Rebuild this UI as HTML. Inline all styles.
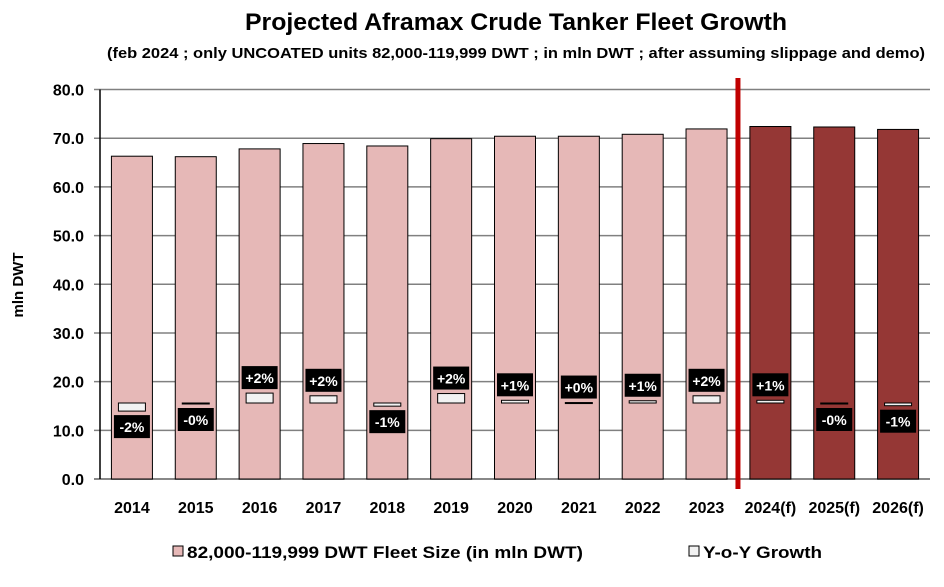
<!DOCTYPE html>
<html><head><meta charset="utf-8"><style>
body{margin:0;background:#fff;font-family:"Liberation Sans",Arial,sans-serif;}
svg text{font-family:"Liberation Sans",Arial,sans-serif;font-weight:bold;}
</style></head><body>
<svg id="c" width="944" height="582">
<text x="516" y="30" text-anchor="middle" font-size="24" textLength="542" lengthAdjust="spacingAndGlyphs">Projected Aframax Crude Tanker Fleet Growth</text>
<text x="516" y="58" text-anchor="middle" font-size="15" textLength="818" lengthAdjust="spacingAndGlyphs">(feb 2024 ; only UNCOATED units 82,000-119,999 DWT ; in mln DWT ; after assuming slippage and demo)</text>
<text transform="translate(23,285) rotate(-90)" text-anchor="middle" font-size="15">mln DWT</text>
<g id="grid"></g><g id="bars"></g><g id="growth"></g>
<rect x="173" y="546" width="10" height="10" fill="#e6b8b7" stroke="#000"/>
<text x="187" y="558" font-size="17" textLength="396" lengthAdjust="spacingAndGlyphs">82,000-119,999 DWT Fleet Size (in mln DWT)</text>
<rect x="689" y="546" width="10" height="10" fill="#f2f2f2" stroke="#000"/>
<text x="703" y="558" font-size="17" textLength="119" lengthAdjust="spacingAndGlyphs">Y-o-Y Growth</text>
</svg>
<script>
const categories=["2014","2015","2016","2017","2018","2019","2020","2021","2022","2023","2024(f)","2025(f)","2026(f)"];
const fleet=[66.3,66.2,67.8,68.9,68.4,69.9,70.4,70.4,70.8,71.9,72.4,72.3,71.8];
const growth=[-1.8,-0.1,2.2,1.6,-0.7,2.1,0.6,0.1,0.5,1.6,0.6,-0.2,-0.6];
const growthLabels=["-2%","-0%","+2%","+2%","-1%","+2%","+1%","+0%","+1%","+2%","+1%","-0%","-1%"];
const yTicks=[0,10,20,30,40,50,60,70,80];
const forecastStart=10;
const NS="http://www.w3.org/2000/svg";
const X0=100,X1=930,Y0=479,Y80=89.5;
const bw=(X1-X0)/categories.length;
const y=v=>Y0-(Y0-Y80)*v/80;
const cx=i=>X0+bw*(i+0.5);
const gz=403,gs=4.5;
const gy=v=>gz-v*gs;
function mk(tag,attrs,parent){const e=document.createElementNS(NS,tag);for(const k in attrs)e.setAttribute(k,attrs[k]);document.getElementById(parent).appendChild(e);return e;}
yTicks.forEach(t=>{
  let l=mk('line',{x1:X0-6,x2:X1,y1:y(t),y2:y(t),stroke:t==0?'#888':'#808080','stroke-width':t==0?2:1.5},'grid');
  
  
  let tx=mk('text',{x:84,y:y(t)+6,'text-anchor':'end','font-size':16},'grid');
  tx.textContent=t.toFixed(1);
  
  
});
let ax=mk('line',{x1:X0,x2:X0,y1:Y80,y2:Y0,stroke:'#000','stroke-width':1.5},'grid');


categories.forEach((c,i)=>{
  const f=i>=forecastStart;
  let r=mk('rect',{x:cx(i)-20.5,y:y(fleet[i]),width:41,height:Y0-y(fleet[i]),fill:f?'#953735':'#e6b8b7',stroke:'#000','stroke-width':1},'bars');
  
  
  let t=mk('text',{x:cx(i),y:513,'text-anchor':'middle','font-size':16},'bars');
  t.textContent=c;
  
  
  const g=growth[i],top=Math.min(gy(g),gz),h=Math.max(Math.abs(g*gs),1);
  let gb=mk('rect',{x:cx(i)-13.5,y:top,width:27,height:h,fill:'#f2f2f2',stroke:'#000','stroke-width':1},'growth');
  
  
  const ly=g>0?top-27:top+h+4;
  let lb=mk('rect',{x:cx(i)-18,y:ly,width:36,height:23,fill:'#000'},'growth');
  
  
  let lt=mk('text',{x:cx(i),y:ly+17,'text-anchor':'middle','font-size':14,fill:'#fff'},'growth');
  lt.textContent=growthLabels[i];
  
  
});
const fx=X0+bw*forecastStart-0.5;
let fl=mk('line',{x1:fx,x2:fx,y1:78,y2:489,stroke:'#c00000','stroke-width':5},'growth');


</script>
</body></html>
